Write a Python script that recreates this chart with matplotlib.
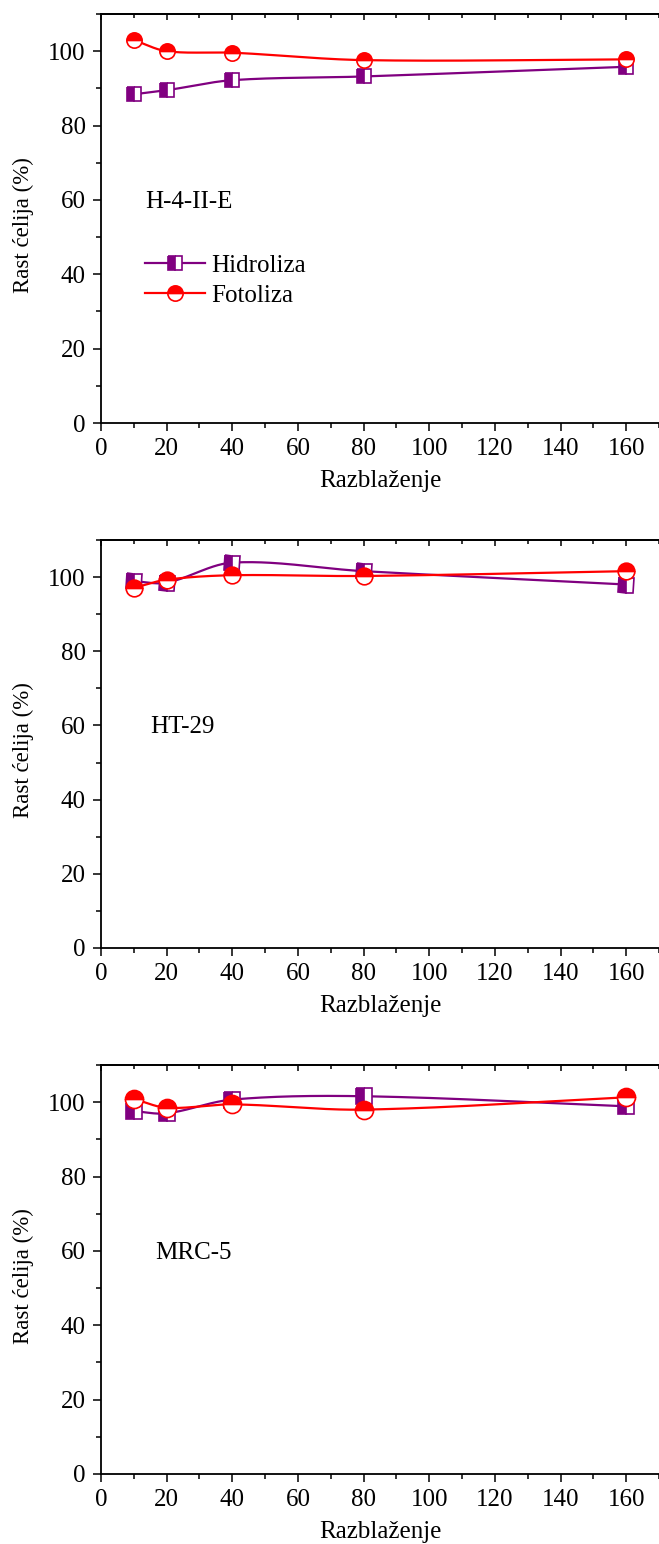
import numpy as np
import matplotlib
matplotlib.use("Agg")
import matplotlib.pyplot as plt
from matplotlib.ticker import MultipleLocator
from matplotlib.lines import Line2D

plt.rcParams['font.family'] = ['Liberation Serif', 'DejaVu Serif']

dilution = [10, 20, 40, 80, 160]

h4_hidroliza = [88.4, 89.5, 92.2, 93.2, 95.8]
h4_fotoliza = [103.0, 100.0, 99.6, 97.6, 97.8]

ht_hidroliza = [98.9, 98.5, 103.9, 101.6, 98.0]
ht_fotoliza = [97.1, 99.3, 100.5, 100.3, 101.6]

mrc_hidroliza = [97.6, 97.0, 100.7, 101.6, 98.9]
mrc_fotoliza = [100.9, 98.5, 99.4, 98.0, 101.3]

cell_lines = ["H-4-II-E", "HT-29", "MRC-5"]
series_names = ["Hidroliza", "Fotoliza"]
x_label = "Razblaženje"
y_label = "Rast ćelija (%)"

PURPLE = "#800080"
RED = "#ff0000"


def smooth_curve(x, y, n=60):
    """Cubic Hermite curve through the points (finite-difference tangents)."""
    x = np.asarray(x, float)
    y = np.asarray(y, float)
    k = len(x)
    m = np.empty(k)
    m[0] = (y[1] - y[0]) / (x[1] - x[0])
    m[-1] = (y[-1] - y[-2]) / (x[-1] - x[-2])
    for i in range(1, k - 1):
        m[i] = (y[i + 1] - y[i - 1]) / (x[i + 1] - x[i - 1])
    xs_all, ys_all = [], []
    for i in range(k - 1):
        h = x[i + 1] - x[i]
        t = np.linspace(0, 1, n)
        h00 = 2 * t**3 - 3 * t**2 + 1
        h10 = t**3 - 2 * t**2 + t
        h01 = -2 * t**3 + 3 * t**2
        h11 = t**3 - t**2
        xs_all.append(x[i] + t * h)
        ys_all.append(h00 * y[i] + h10 * h * m[i] + h01 * y[i + 1] + h11 * h * m[i + 1])
    return np.concatenate(xs_all), np.concatenate(ys_all)


W, H = 659, 1544
fig = plt.figure(figsize=(W / 100, H / 100), dpi=100)

panels = [
    (14, 423, h4_hidroliza, h4_fotoliza, 11, True, 13.5),
    (540, 948, ht_hidroliza, ht_fotoliza, 12, False, 15.0),
    (1065, 1474, mrc_hidroliza, mrc_fotoliza, 13, False, 16.5),
]

FS = 18
for idx, (top, bot, hyd, fot, ms, show_leg, tx) in enumerate(panels):
    left = 101 / W
    ax = fig.add_axes([left, 1 - bot / H, 1.0 - left, (bot - top) / H])
    ax.set_xlim(0, 170)
    ax.set_ylim(0, 110)

    xs, ys = smooth_curve(dilution, hyd)
    ax.plot(xs, ys, color=PURPLE, lw=1.6, zorder=2)
    xs2, ys2 = smooth_curve(dilution, fot)
    ax.plot(xs2, ys2, color=RED, lw=1.6, zorder=3)

    ax.plot(dilution, hyd, ls='none', marker='s', ms=ms * 0.9, mfc=PURPLE,
            mfcalt='white', fillstyle='left', mec=PURPLE, mew=1.2, zorder=4)
    ax.plot(dilution, fot, ls='none', marker='o', ms=ms, mfc=RED,
            mfcalt='white', fillstyle='top', mec=RED, mew=1.2, zorder=5)

    ax.xaxis.set_major_locator(MultipleLocator(20))
    ax.xaxis.set_minor_locator(MultipleLocator(10))
    ax.yaxis.set_major_locator(MultipleLocator(20))
    ax.yaxis.set_minor_locator(MultipleLocator(10))
    ax.spines['right'].set_visible(False)
    for s in ['left', 'bottom', 'top']:
        ax.spines[s].set_linewidth(1.3)
    ax.tick_params(axis='both', which='major', direction='out', length=6,
                   width=1.1, labelsize=FS, top=False, right=False, pad=5)
    ax.tick_params(axis='both', which='minor', direction='out', length=3.5,
                   width=1.1, top=False, right=False)
    ax.set_xlabel(x_label, fontsize=FS, labelpad=7)
    ax.set_ylabel(y_label, fontsize=16.5)
    ax.yaxis.set_label_coords((34 - 101) / 558, (bot - 225 + 14 - 14) / 409
                              if idx == 0 else 0.484)

    sec = ax.secondary_xaxis('top')
    sec.xaxis.set_major_locator(MultipleLocator(20))
    sec.xaxis.set_minor_locator(MultipleLocator(10))
    sec.tick_params(which='major', direction='in', length=4, width=1.1,
                    labeltop=False)
    sec.tick_params(which='minor', direction='in', length=3, width=1.1)
    sec.spines['top'].set_linewidth(1.3)

    ax.text(tx, 59.5, cell_lines[idx], fontsize=FS, va='center', ha='left')

    if show_leg:
        handles = [
            Line2D([], [], color=PURPLE, lw=1.6, marker='s', ms=ms * 0.9,
                   mfc=PURPLE, mfcalt='white', fillstyle='left', mec=PURPLE,
                   mew=1.2),
            Line2D([], [], color=RED, lw=1.6, marker='o', ms=ms, mfc=RED,
                   mfcalt='white', fillstyle='top', mec=RED, mew=1.2),
        ]
        ax.legend(handles, series_names, loc='upper left',
                  bbox_to_anchor=(0.078, 0.413), frameon=False, fontsize=FS,
                  handlelength=2.4, handletextpad=0.25, borderpad=0,
                  labelspacing=0.3, borderaxespad=0)

fig.savefig("out.png", dpi=100)
